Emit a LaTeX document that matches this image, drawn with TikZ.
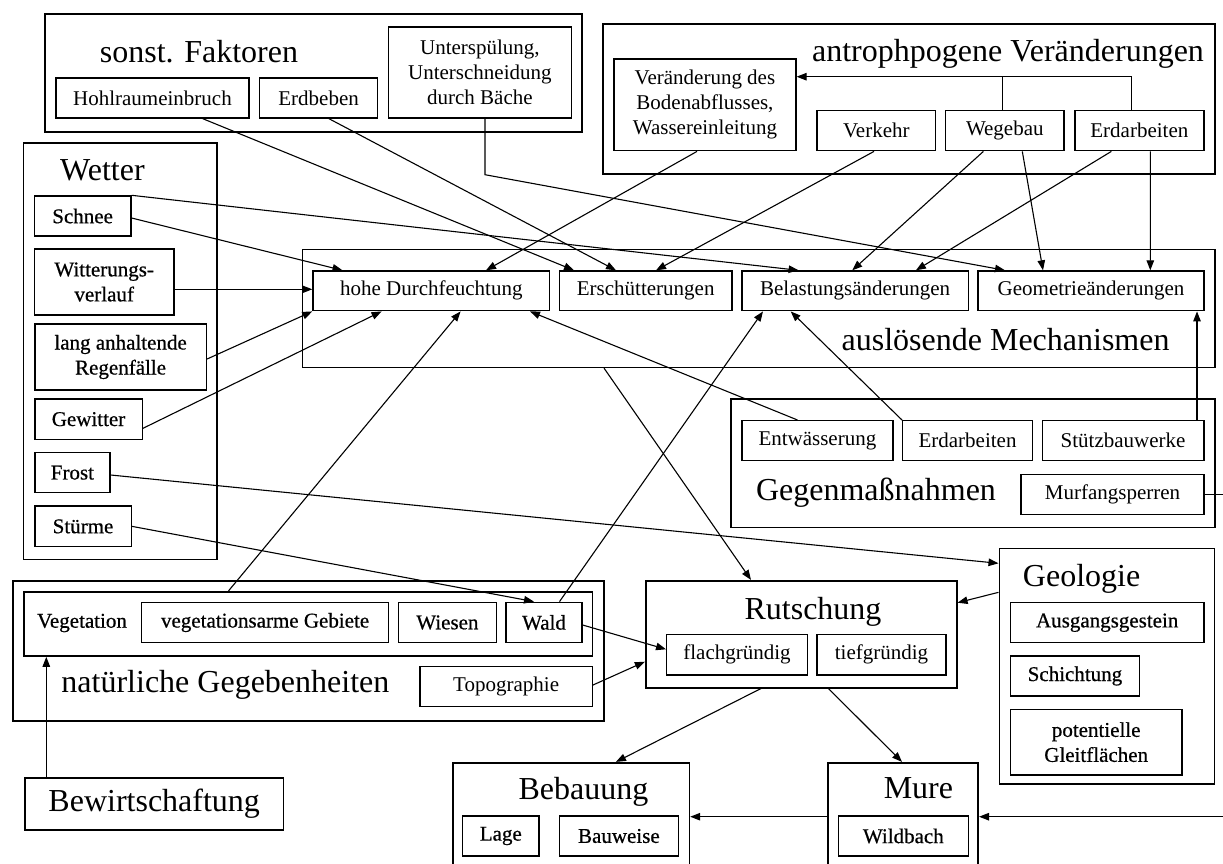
\documentclass[tikz,border=0pt]{standalone}
\usepackage{fontspec}
\setmainfont{Liberation Serif}
\newfontfamily\semib[FakeBold=0.6]{Liberation Serif}
\usetikzlibrary{arrows.meta}
\newcommand\smtxt{\fontsize{21}{25}\selectfont}
\newcommand\bgtxt{\fontsize{32}{36}\selectfont}
\begin{document}
\begin{tikzpicture}[x=1pt,y=-1pt,
  box/.style={draw,line width=1.4pt,inner sep=0pt,align=center,font=\smtxt},
  sbox/.style={box,font=\smtxt\semib},
  grp/.style={draw,line width=1.6pt,inner sep=0pt},
  ttl/.style={font=\bgtxt,inner sep=0pt,anchor=base},
  arr/.style={-{Triangle[length=10pt,width=7.5pt]},line width=1.1pt},
  ln/.style={line width=1.1pt}]
\fill[white] (0,0) rectangle (1223,863);
\useasboundingbox (0,0) rectangle (1223,863);

% group boxes
\node[grp,minimum width=536.9pt,minimum height=117.7pt] (sonst) at (313.25,72.85) {};
\node[grp,minimum width=612pt,minimum height=150pt] (antro) at (909,99) {};
\node[grp,minimum width=193.4pt,minimum height=416.3pt] (wetter) at (120,351.15) {};
\node[grp,minimum width=912.5pt,minimum height=118pt] (ausl) at (758.75,308.3) {};
\node[grp,minimum width=484pt,minimum height=128.3pt] (gegen) at (973,463.15) {};
\node[grp,minimum width=591.1pt,minimum height=140pt] (natur) at (308.25,650.7) {};
\node[grp,minimum width=568.6pt,minimum height=64.3pt] (veg) at (308,623.85) {};
\node[grp,minimum width=311.1pt,minimum height=107pt] (rutsch) at (801.25,634.2) {};
\node[grp,minimum width=215.3pt,minimum height=235.7pt] (geol) at (1106.95,666.15) {};
\node[grp,minimum width=236.7pt,minimum height=112.3pt] (bebau) at (571.05,818.85) {};
\node[grp,minimum width=150.5pt,minimum height=112.3pt] (mure) at (902.95,818.85) {};
\node[grp,font=\bgtxt,minimum width=258.6pt,minimum height=52.3pt] (bewirt) at (154.2,803.85) {Bewirtschaftung};

% titles
\node[ttl] (tsonst) at (199,62.7) {sonst. Faktoren};
\node[ttl] (twetter) at (102.4,180) {Wetter};
\node[ttl] (tantro) at (1008,61.7) {antrophpogene Veränderungen};
\node[ttl] (tausl) at (1005.6,350) {auslösende Mechanismen};
\node[ttl] (tgegen) at (876,500) {Gegenmaßnahmen};
\node[ttl] (tnatur) at (225.4,692.7) {natürliche Gegebenheiten};
\node[ttl] (trutsch) at (813,619.3) {Rutschung};
\node[ttl] (tgeol) at (1081.6,586) {Geologie};
\node[ttl] (tbebau) at (583.5,799.3) {Bebauung};
\node[ttl] (tmure) at (918.4,798.3) {Mure};

% inner boxes
\node[box,minimum width=193.1pt,minimum height=40pt] (hohl) at (152.45,98) {Hohlraumeinbruch};
\node[box,minimum width=118.2pt,minimum height=40pt] (erdb) at (318.6,98) {Erdbeben};
\node[box,minimum width=183pt,minimum height=91pt] (unters) at (479.9,72.5) {Unterspülung,\\Unterschneidung\\durch Bäche};
\node[box,minimum width=181.9pt,minimum height=91.7pt] (veraend) at (704.95,104.85) {Veränderung des\\Bodenabflusses,\\Wassereinleitung};
\node[box,minimum width=118.7pt,minimum height=40pt] (verkehr) at (876.35,130.7) {Verkehr};
\node[box,minimum width=118.4pt,minimum height=40pt] (wegebau) at (1004.8,130.7) {Wegebau};
\node[box,minimum width=129.1pt,minimum height=40pt] (erdarb) at (1139.35,130.7) {Erdarbeiten};

\node[sbox,minimum width=96.5pt,minimum height=40pt] (schnee) at (82.65,216) {Schnee};
\node[sbox,minimum width=139.6pt,minimum height=66pt] (witter) at (104.2,282) {Witterungs-\\verlauf};
\node[sbox,minimum width=171.6pt,minimum height=66pt] (regen) at (120.6,357) {lang anhaltende\\Regenfälle};
\node[sbox,minimum width=107.5pt,minimum height=40.3pt] (gewitter) at (88.55,419.15) {Gewitter};
\node[sbox,minimum width=75.2pt,minimum height=40pt] (frost) at (72.4,472.7) {Frost};
\node[sbox,minimum width=96.5pt,minimum height=40.7pt] (stuerme) at (83.05,526.35) {Stürme};

\node[box,minimum width=236.6pt,minimum height=39.7pt] (hohe) at (431.3,290.85) {hohe Durchfeuchtung};
\node[box,minimum width=172.4pt,minimum height=39.7pt] (erschue) at (645.7,290.85) {Erschütterungen};
\node[box,minimum width=226.3pt,minimum height=39.7pt] (belast) at (855.15,290.85) {Belastungsänderungen};
\node[box,minimum width=226pt,minimum height=39.7pt] (geom) at (1091,290.85) {Geometrieänderungen};

\node[box,minimum width=150.8pt,minimum height=40pt] (entw) at (817.4,440.7) {Entwässerung};
\node[box,minimum width=129.6pt,minimum height=40pt] (erdarb2) at (967.5,440.7) {Erdarbeiten};
\node[box,minimum width=161.8pt,minimum height=40pt] (stuetz) at (1123.1,440.7) {Stützbauwerke};
\node[box,minimum width=183pt,minimum height=40pt] (murf) at (1112.5,494.3) {Murfangsperren};

\node[font=\smtxt\semib,inner sep=0pt] (vegl) at (82,623) {Vegetation};
\node[sbox,minimum width=247.2pt,minimum height=40.4pt] (vegarm) at (265.1,622.5) {vegetationsarme Gebiete};
\node[sbox,minimum width=97.6pt,minimum height=40.4pt] (wiesen) at (447.4,622.5) {Wiesen};
\node[sbox,minimum width=76pt,minimum height=40.4pt] (wald) at (544,622.5) {Wald};
\node[box,minimum width=172.3pt,minimum height=40pt] (topo) at (506.15,686.7) {Topographie};

\node[box,minimum width=140.7pt,minimum height=40.3pt] (flach) at (737.05,654.85) {flachgründig};
\node[box,minimum width=129pt,minimum height=40.3pt] (tief) at (881.5,654.85) {tiefgründig};

\node[sbox,minimum width=193.6pt,minimum height=40pt] (ausg) at (1107.2,622.7) {Ausgangsgestein};
\node[sbox,minimum width=129.1pt,minimum height=40pt] (schicht) at (1074.95,676) {Schichtung};
\node[sbox,minimum width=171.6pt,minimum height=65.7pt] (gleit) at (1096.2,742.15) {potentielle\\Gleitflächen};

\node[sbox,minimum width=76.4pt,minimum height=40pt] (lage) at (500.8,836) {Lage};
\node[sbox,minimum width=118.8pt,minimum height=40pt] (bauw) at (618.9,836) {Bauweise};
\node[sbox,minimum width=129.9pt,minimum height=40pt] (wildb) at (903.35,836) {Wildbach};

% connectors
\draw[arr] ([xshift=50.35pt]hohl.south) -- ([xshift=-71.7pt]erschue.north);
\draw[arr] ([xshift=10.4pt]erdb.south) -- ([xshift=-29.7pt]erschue.north);
\draw[arr] ([xshift=5.1pt]unters.south) -- ++(0,56) -- ([xshift=-86pt]geom.north);
\draw[arr] ([xshift=-7.95pt]veraend.south) -- ([xshift=54.7pt]hohe.north);
\draw[arr] ([xshift=-2.35pt]verkehr.south) -- ([xshift=10.3pt]erschue.north);
\draw[arr] ([xshift=-21.4pt]wegebau.south) -- ([xshift=-2.85pt]belast.north);
\draw[arr] ([xshift=17.5pt]wegebau.south) -- ([xshift=-48pt]geom.north);
\draw[arr] ([xshift=-28pt]erdarb.south) -- ([xshift=60.75pt]belast.north);
\draw[arr] ([xshift=11pt]erdarb.south) -- ([xshift=59.3pt]geom.north);
\draw[arr] ([xshift=-7.75pt]erdarb.north) |- ([yshift=28.15pt]veraend.east);
\draw[ln] ([xshift=-2.3pt]wegebau.north) -- ++(0,-34);
\draw[arr] (schnee.north east) -- ([xshift=-56.55pt]belast.north);
\draw[arr] ([yshift=-2pt]schnee.east) -- ([xshift=-88.8pt]hohe.north);
\draw[arr] ([yshift=-7.3pt]witter.east) -- ([yshift=1.55pt]hohe.west);
\draw[arr] ([yshift=-2pt]regen.east) -- (hohe.south west);
\draw[arr] ([yshift=-9.15pt]gewitter.east) -- ([xshift=-49.7pt]hohe.south);
\draw[arr] ([xshift=-79.5pt]veg.north) -- ([xshift=29.3pt]hohe.south);
\draw[arr] ([xshift=15.5pt]wald.north) -- ([xshift=-92.15pt]belast.south);
\draw[arr] (stuerme.east) -- ([xshift=-10pt]wald.north);
\draw[arr] ([yshift=-2.3pt]frost.east) -- ([yshift=102.85pt]geol.west);
\draw[arr] ([xshift=-19.9pt]entw.north) -- ([xshift=98.7pt]hohe.south);
\draw[arr] (erdarb2.north west) -- ([xshift=-64.45pt]belast.south);
\draw[arr] ([xshift=73.9pt]stuetz.north) -- ([xshift=106pt]geom.south);
\draw[arr] ([xshift=-154.75pt]ausl.south) -- ([xshift=-50.25pt]rutsch.north);
\draw[arr] ([yshift=73.85pt]geol.west) -- ([yshift=31.5pt]rutsch.east);
\draw[arr] ([yshift=-2.5pt]wald.east) -- ([yshift=5.55pt]flach.west);
\draw[arr] ([yshift=1.7pt]topo.east) -- ([yshift=-27.5pt]rutsch.west);
\draw[arr] ([xshift=-40.25pt]rutsch.south) -- ([xshift=44.85pt]bebau.north);
\draw[arr] ([xshift=27.15pt]rutsch.south) -- ([xshift=-0.95pt]mure.north);
\draw[arr] ([yshift=2.15pt]mure.west) -- ([yshift=2.15pt]bebau.east);
\draw[arr] (murf.east) -- ++(36,0) |- ([yshift=2.15pt]mure.east);
\draw[arr] ([xshift=-107.9pt]bewirt.north) -- ([xshift=-261.7pt]veg.south);
\end{tikzpicture}
\end{document}
